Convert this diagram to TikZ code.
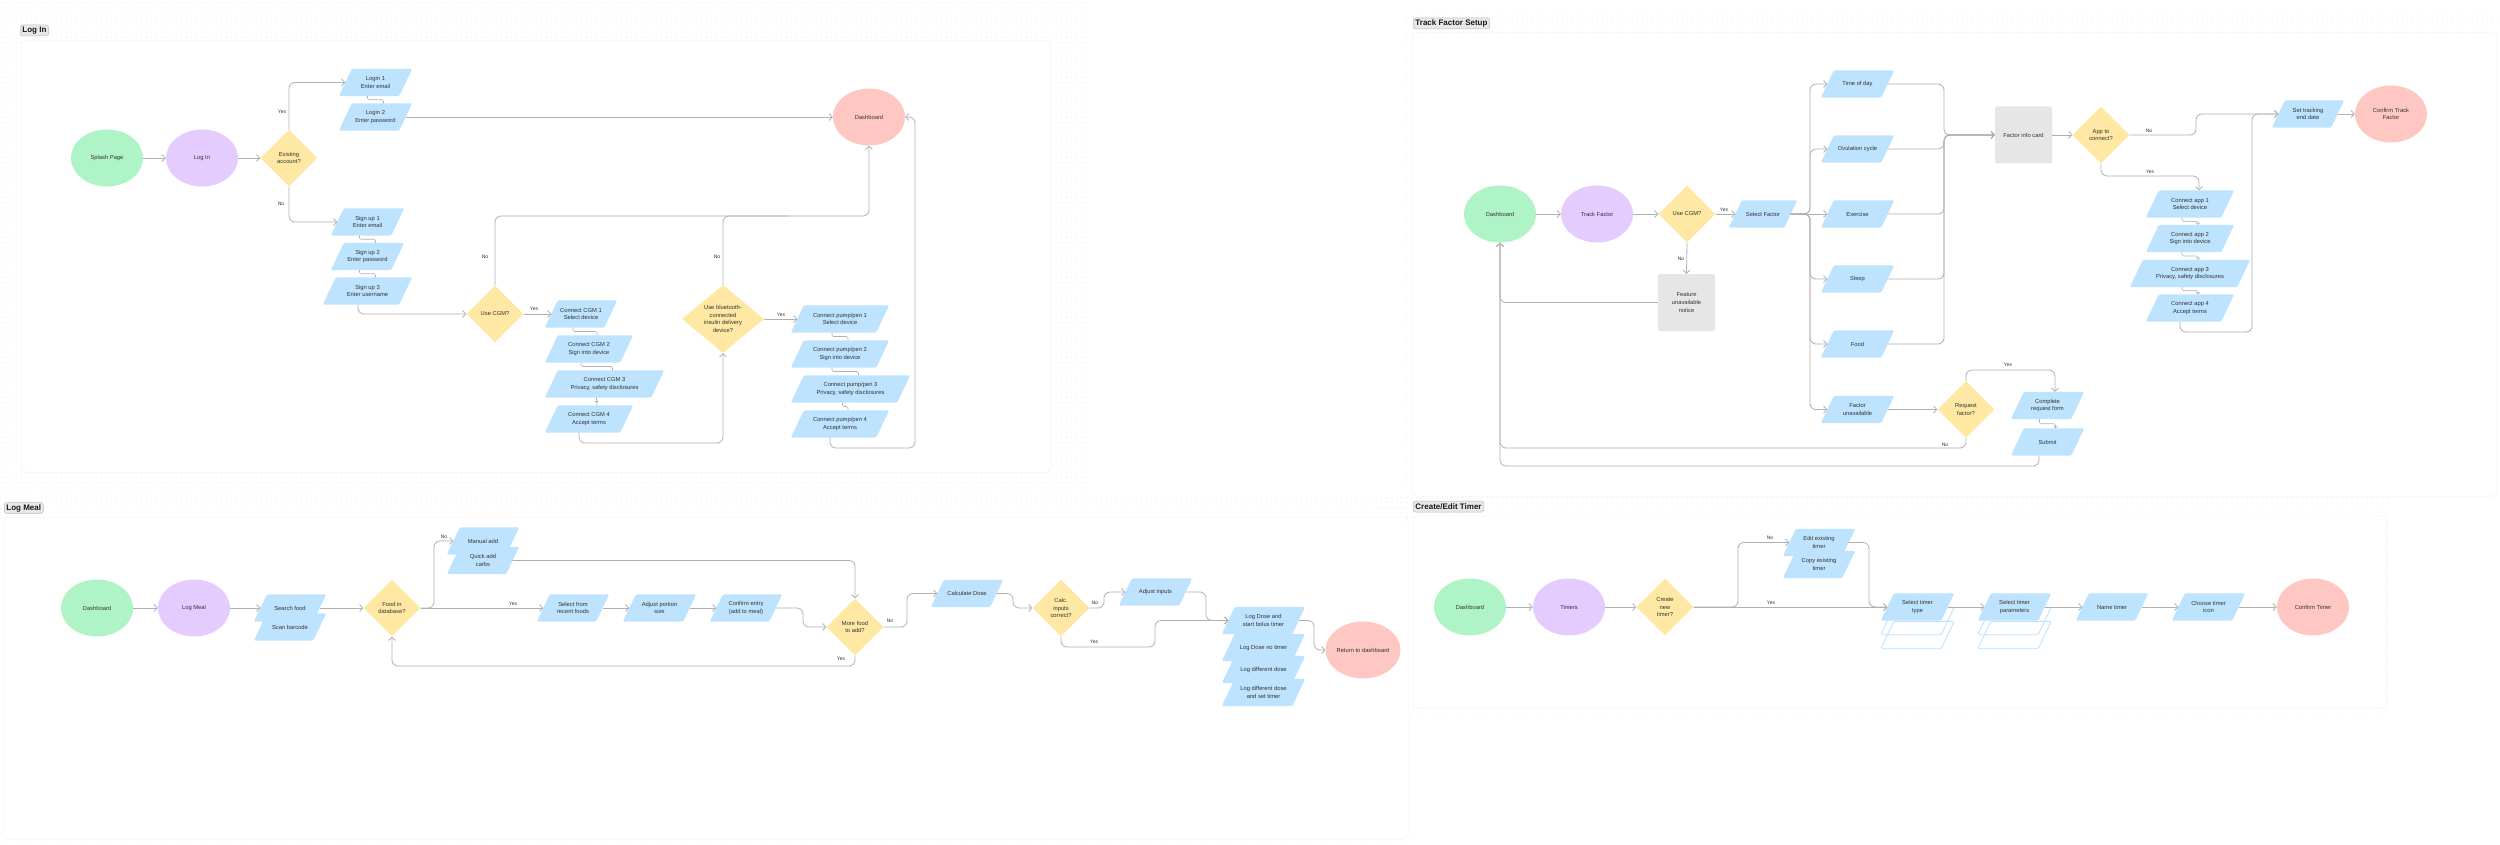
\documentclass[tikz,border=0pt]{standalone}
\usepackage{fontspec}
\setmainfont{Liberation Sans}
\usetikzlibrary{shapes.geometric,arrows.meta,calc,patterns.meta}
\pgfdeclarelayer{back}\pgfdeclarelayer{shapes}\pgfsetlayers{back,shapes,main}
\definecolor{cGreen}{HTML}{AFF4C6}
\definecolor{cPurple}{HTML}{E4CCFF}
\definecolor{cYellow}{HTML}{FFE8A3}
\definecolor{cRed}{HTML}{FFC7C2}
\definecolor{cBlue}{HTML}{BDE3FF}
\definecolor{cGray}{HTML}{E6E6E6}
\definecolor{cLine}{HTML}{B0B0B0}
\definecolor{cText}{HTML}{333333}
\definecolor{cTitle}{HTML}{E8E8E8}
\definecolor{cTitleB}{HTML}{BDBDBD}
\pgfdeclarepattern{
  name=fdots,
  type=uncolored,
  bottom left={\pgfpoint{0pt}{0pt}},
  top right={\pgfpoint{5pt}{5pt}},
  tile size={\pgfpoint{5pt}{5pt}},
  code={\pgfpathcircle{\pgfpoint{2.5pt}{2.5pt}}{0.5pt}\pgfusepath{fill}}
}
\tikzset{
  nbase/.style={font=\fontsize{5.8}{7.6}\selectfont, text=cText, align=center, inner sep=0pt},
  ell/.style={nbase, ellipse, minimum width=72pt, minimum height=57pt},
  dia/.style={nbase, diamond, fill=cYellow, minimum width=57pt, minimum height=57pt},
  boxg/.style={nbase, rectangle, fill=cGray, rounded corners=1.5pt, minimum width=57pt, minimum height=57pt},
  pnode/.style={nbase, rectangle, minimum height=27pt},
  conn/.style={draw=cLine, line width=0.8pt, rounded corners=6pt},
  arr/.style={-{Straight Barb[length=3.2pt,width=7pt,line width=0.8pt]}},
  sarr/.style={-{Straight Barb[length=1.8pt,width=4pt,line width=0.6pt]}},
  lbl/.style={font=\fontsize{5}{6}\selectfont, text=cText, inner sep=0pt},
  ttl/.style={font=\fontsize{8}{10}\selectfont\bfseries, text=black!90, fill=cTitle, draw=cTitleB, line width=0.5pt, rounded corners=2.5pt, inner xsep=2.2pt, inner ysep=1.5pt, minimum height=11pt, anchor=west},
  secframe/.style={fill=white, draw=black!9, line width=0.5pt, dash pattern=on 1pt off 1pt, rounded corners=4pt},
  sqc/.style={draw=cLine, line width=0.6pt, rounded corners=1.5pt},
  poutl/.style={draw=cBlue, line width=0.9pt, rounded corners=1.5pt},
}
% parallelogram: [opts]{name}{x,y}{mid width}{text}
\newcommand\pgram[5][]{%
  \node[pnode, minimum width=#4pt, #1] (#2) at (#3) {#5};
  \begin{pgfonlayer}{shapes}
  \fill[cBlue, rounded corners=1.5pt] ([xshift=-6.5pt]#2.south west) -- ([xshift=-6.5pt]#2.south east) -- ([xshift=6.5pt]#2.north east) -- ([xshift=6.5pt]#2.north west) -- cycle;
  \end{pgfonlayer}}
% outline copy of a parallelogram shifted down
\newcommand\pgout[2]{%
  \begin{pgfonlayer}{back}
  \draw[poutl] ([xshift=-6.5pt,yshift=-#2pt]#1.south west) -- ([xshift=-6.5pt,yshift=-#2pt]#1.south east) -- ([xshift=6.5pt,yshift=-#2pt]#1.north east) -- ([xshift=6.5pt,yshift=-#2pt]#1.north west) -- cycle;
  \end{pgfonlayer}}
% small step connector
\newcommand\smallc[3][]{%
  \draw[sqc,#1] ([xshift=-8pt]#2.south) |- ($([xshift=-8pt]#2.south)!0.5!([xshift=8pt]#3.north)$) -| ([xshift=8pt]#3.north);}
\begin{document}
\begin{tikzpicture}[x=1pt,y=-1pt]
\useasboundingbox (0,0) rectangle (2500,845);
\begin{pgfonlayer}{back}
\fill[white] (0,0) rectangle (2500,845);
\fill[pattern=fdots, pattern color=black!13] (0,0) rectangle (1088,495);
\fill[pattern=fdots, pattern color=black!13] (0,495) rectangle (1410,845);
\fill[pattern=fdots, pattern color=black!13] (1405,12) rectangle (2500,500);
\fill[pattern=fdots, pattern color=black!13] (1380,497) rectangle (2390,715);
\draw[secframe] (21,41) rectangle (1051,472);
\draw[secframe] (1412,33) rectangle (2497,496);
\draw[secframe] (4,517) rectangle (1408,839);
\draw[secframe] (1413,516) rectangle (2386,708);
\end{pgfonlayer}

% ================= LOG IN =================
\node[ttl] (tLogIn) at (20,30.5) {Log In};
\node[ell, fill=cGreen] (splash) at (107,158) {Splash Page};
\node[ell, fill=cPurple] (login) at (202,158) {Log In};
\node[dia] (exist) at (289,158) {Existing\\account?};
\pgram{login1}{375.5,82.5}{60}{Login 1\\Enter email}
\pgram{login2}{375.5,117}{60}{Login 2\\Enter password}
\pgram{su1}{367.5,222}{60}{Sign up 1\\Enter email}
\pgram{su2}{367.5,256.5}{60}{Sign up 2\\Enter password}
\pgram{su3}{367.5,291}{76}{Sign up 3\\Enter username}
\node[ell, fill=cRed] (dash1) at (869,117) {Dashboard};
\node[dia] (usecgm) at (495,314) {Use CGM?};
\pgram{cgm1}{581,314}{59}{Connect CGM 1\\Select device}
\pgram{cgm2}{589,349}{75}{Connect CGM 2\\Sign into device}
\pgram{cgm3}{604.5,384}{106}{Connect CGM 3\\Privacy, safety disclosures}
\pgram{cgm4}{589,419}{75}{Connect CGM 4\\Accept terms}
\node[dia, minimum width=82pt, minimum height=68pt] (bt) at (723,319) {Use bluetooth-\\connected\\insulin delivery\\device?};
\pgram{pump1}{840,319}{85}{Connect pump/pen 1\\Select device}
\pgram{pump2}{840,354}{85}{Connect pump/pen 2\\Sign into device}
\pgram{pump3}{850.5,389}{106}{Connect pump/pen 3\\Privacy, safety disclosures}
\pgram{pump4}{840,424}{85}{Connect pump/pen 4\\Accept terms}

\draw[conn,arr] (splash) -- (login);
\draw[conn,arr] (login) -- (exist);
\draw[conn,arr] (exist.north) |- (login1.west);
\draw[conn,arr] (exist.south) |- (su1.west);
\draw[conn,arr] (login2.east) -- (dash1.west);
\smallc{login1}{login2}
\smallc{su1}{su2}
\smallc{su2}{su3}
\draw[conn,arr] ([xshift=-9.5pt]su3.south) |- (usecgm.west);
\draw[conn,arr] (usecgm.north) |- (869,216) -- (dash1.south);
\draw[conn] (bt.north) |- (790,216);
\draw[conn,arr] (usecgm.east) -- (cgm1.west);
\smallc{cgm1}{cgm2}
\smallc{cgm2}{cgm3}
\smallc{cgm3}{cgm4}
\draw[conn,arr] ([xshift=-10pt]cgm4.south) |- (723,443) -- (bt.south);
\draw[conn,arr] (bt.east) -- (pump1.west);
\smallc{pump1}{pump2}
\smallc{pump2}{pump3}
\smallc{pump3}{pump4}
\draw[conn,arr] ([xshift=-10pt]pump4.south) |- (915,448) -- (915,117) -- (dash1.east);
\node[lbl] (l1) at (282,112) {Yes};
\node[lbl] (l2) at (281,204) {No};
\node[lbl] (l3) at (485,257) {No};
\node[lbl] (l4) at (717,257) {No};
\node[lbl] (l5) at (534,309) {Yes};
\node[lbl] (l6) at (781,315) {Yes};

% ================= TRACK FACTOR SETUP =================
\node[ttl] (tTF) at (1413,23.5) {Track Factor Setup};
\node[ell, fill=cGreen] (tfdash) at (1500,214) {Dashboard};
\node[ell, fill=cPurple] (tf) at (1597,214) {Track Factor};
\node[dia] (tfcgm) at (1687,214) {Use CGM?};
\pgram{selfac}{1763,214}{55}{Select Factor}
\node[boxg] (feat) at (1686.5,302.5) {Feature\\unavailable\\notice};
\pgram{time}{1857.5,84}{60}{Time of day}
\pgram{ovu}{1857.5,149}{60}{Ovulation cycle}
\pgram{exer}{1857.5,214}{60}{Exercise}
\pgram{sleep}{1857.5,279}{60}{Sleep}
\pgram{food}{1857.5,344}{60}{Food}
\pgram{facun}{1857.5,409.5}{60}{Factor\\unavailable}
\node[boxg] (card) at (2023.5,135) {Factor info card};
\node[dia] (app) at (2101,135) {App to\\connect?};
\pgram{app1}{2190,204}{75}{Connect app 1\\Select device}
\pgram{app2}{2190,238.5}{75}{Connect app 2\\Sign into device}
\pgram{app3}{2190,273.5}{107}{Connect app 3\\Privacy, safety disclosures}
\pgram{app4}{2190,308}{75}{Connect app 4\\Accept terms}
\pgram{settrack}{2308,114}{59}{Set tracking\\end date}
\node[ell, fill=cRed] (conftf) at (2391,114) {Confirm Track\\Factor};
\node[dia] (req) at (1966,409.5) {Request\\factor?};
\pgram{compl}{2047.5,405.5}{60}{Complete\\request form}
\pgram{submit}{2047.5,442}{60}{Submit}

\draw[conn,arr] (tfdash) -- (tf);
\draw[conn,arr] (tf) -- (tfcgm);
\draw[conn,arr] (tfcgm.east) -- (selfac.west);
\draw[conn,arr] (tfcgm.south) -- (feat.north);
\draw[conn,arr] (feat.west) -| (tfdash.south);
\draw[conn,arr] (selfac.east) -- (1810,214) |- (time.west);
\draw[conn,arr] (selfac.east) -- (1810,214) |- (ovu.west);
\draw[conn,arr] (selfac.east) -- (exer.west);
\draw[conn,arr] (selfac.east) -- (1810,214) |- (sleep.west);
\draw[conn,arr] (selfac.east) -- (1810,214) |- (food.west);
\draw[conn,arr] (selfac.east) -- (1810,214) |- (facun.west);
\draw[conn,arr] (time.east) -| (1944,135) -- (card.west);
\draw[conn,arr] (ovu.east) -| (1944,135) -- (card.west);
\draw[conn,arr] (exer.east) -| (1944,135) -- (card.west);
\draw[conn,arr] (sleep.east) -| (1944,135) -- (card.west);
\draw[conn,arr] (food.east) -| (1944,135) -- (card.west);
\draw[conn,arr] (card.east) -- (app.west);
\draw[conn,arr] (app.east) -- (2196,135) -- (2196,114) -- (settrack.west);
\draw[conn,arr] (app.south) |- (2199,176) -- ([xshift=9pt]app1.north);
\smallc[sarr]{app1}{app2}
\smallc[sarr]{app2}{app3}
\smallc[sarr]{app3}{app4}
\draw[conn,arr] ([xshift=-10pt]app4.south) |- (2252,332) -- (2252,114) -- (settrack.west);
\draw[conn,arr] (settrack.east) -- (conftf.west);
\draw[conn,arr] (facun.east) -- (req.west);
\draw[conn,arr] (req.north) |- (2055,370) -- ([xshift=7.5pt]compl.north);
\smallc[sarr]{compl}{submit}
\draw[conn,arr] (req.south) |- (1500,448) -- (tfdash.south);
\draw[conn,arr] ([xshift=-8.5pt]submit.south) |- (1500,466) -- (tfdash.south);
\node[lbl] (l7) at (1724,210) {Yes};
\node[lbl] (l8) at (1681,259) {No};
\node[lbl] (l9) at (1945,445) {No};
\node[lbl] (l10) at (2149,131) {No};
\node[lbl] (l11) at (2150,172) {Yes};
\node[lbl] (l12) at (2008,365) {Yes};

% ================= LOG MEAL =================
\node[ttl] (tLM) at (4,508) {Log Meal};
\node[ell, fill=cGreen] (lmdash) at (97,608) {Dashboard};
\node[ell, fill=cPurple] (lm) at (194,608) {Log Meal};
\pgram{search}{290,608}{59}{Search food}
\pgram{scan}{290,627}{59}{Scan barcode}
\node[dia] (fid) at (392,608) {Food in\\database?};
\pgram{manual}{483,541}{59}{Manual add}
\pgram{quick}{483,560.5}{59}{Quick add\\carbs}
\pgram{selrec}{573,608}{59}{Select from\\recent foods}
\pgram{adjp}{659.5,608}{60}{Adjust portion\\size}
\pgram{confe}{746,608}{59}{Confirm entry\\(add to meal)}
\node[dia] (more) at (855,627) {More food\\to add?};
\pgram{calc}{967,593.5}{59}{Calculate Dose}
\node[dia] (calcok) at (1061,608) {Calc.\\inputs\\correct?};
\pgram{adji}{1155.5,592}{60}{Adjust inputs}
\pgram{ld1}{1263.5,620.5}{70}{Log Dose and\\start bolus timer}
\pgram{ld2}{1263.5,647.5}{70}{Log Dose no timer}
\pgram{ld3}{1263.5,669.5}{70}{Log different dose}
\pgram{ld4}{1263.5,692.5}{70}{Log different dose\\and set timer}
\node[ell, fill=cRed] (ret) at (1363,650) {Return to dashboard};

\draw[conn,arr] (lmdash) -- (lm);
\draw[conn,arr] (lm) -- (search.west);
\draw[conn,arr] (search.east) -- (fid.west);
\draw[conn,arr] (fid.east) -- (selrec.west);
\draw[conn,arr] (fid.east) -- (434,608) -- (434,541) -- (manual.west);
\draw[conn,arr] (quick.east) -| (more.north);
\draw[conn,arr] (selrec.east) -- (adjp.west);
\draw[conn,arr] (adjp.east) -- (confe.west);
\draw[conn,arr] (confe.east) -- (803,608) -- (803,627) -- (more.west);
\draw[conn,arr] (more.south) |- (392,666) -- (fid.south);
\draw[conn,arr] (more.east) -- (907,627) -- (907,593.5) -- (calc.west);
\draw[conn,arr] (calc.east) -- (1013,593.5) -- (1013,608) -- (calcok.west);
\draw[conn,arr] (calcok.east) -- (1104,608) -- (1104,592) -- (adji.west);
\draw[conn,arr] (adji.east) -- (1206,592) -- (1206,620.5) -- (ld1.west);
\draw[conn,arr] (calcok.south) |- (1155,647) -- (1155,620.5) -- (ld1.west);
\draw[conn,arr] (ld1.east) -- (1314,620.5) -- (1314,650) -- (ret.west);
\node[lbl] (l13) at (444,537) {No};
\node[lbl] (l14) at (513,604) {Yes};
\node[lbl] (l15) at (841,659) {Yes};
\node[lbl] (l16) at (890,621) {No};
\node[lbl] (l17) at (1095,603) {No};
\node[lbl] (l18) at (1094,642) {Yes};

% ================= CREATE / EDIT TIMER =================
\node[ttl] (tCT) at (1413,506.5) {Create/Edit Timer};
\node[ell, fill=cGreen] (ctdash) at (1470,607) {Dashboard};
\node[ell, fill=cPurple] (timers) at (1569,607) {Timers};
\node[dia] (cnt) at (1665,607) {Create\\new\\timer?};
\pgram{edit}{1819,542.5}{59}{Edit existing\\timer}
\pgram{copy}{1819,564.5}{59}{Copy existing\\timer}
\pgram{stype}{1917.5,607}{60}{Select timer\\type}
\pgout{stype}{14}
\pgout{stype}{28}
\pgram{sparam}{2014.5,607}{60}{Select timer\\parameters}
\pgout{sparam}{14}
\pgout{sparam}{28}
\pgram{tname}{2112,607}{59}{Name timer}
\pgram{icon}{2208.5,607}{60}{Choose timer\\icon}
\node[ell, fill=cRed] (conft) at (2313,607) {Confirm Timer};

\draw[conn,arr] (ctdash) -- (timers);
\draw[conn,arr] (timers) -- (cnt);
\draw[conn,arr] (cnt.east) -- (stype.west);
\draw[conn,arr] (cnt.east) -- (1738,607) -- (1738,542.5) -- (edit.west);
\draw[conn,arr] (edit.east) -- (1869,542.5) -- (1869,607) -- (stype.west);
\draw[conn,arr] (stype.east) -- (sparam.west);
\draw[conn,arr] (sparam.east) -- (tname.west);
\draw[conn,arr] (tname.east) -- (icon.west);
\draw[conn,arr] (icon.east) -- (conft.west);
\node[lbl] (l19) at (1770,538) {No};
\node[lbl] (l20) at (1771,603) {Yes};
\end{tikzpicture}
\end{document}
